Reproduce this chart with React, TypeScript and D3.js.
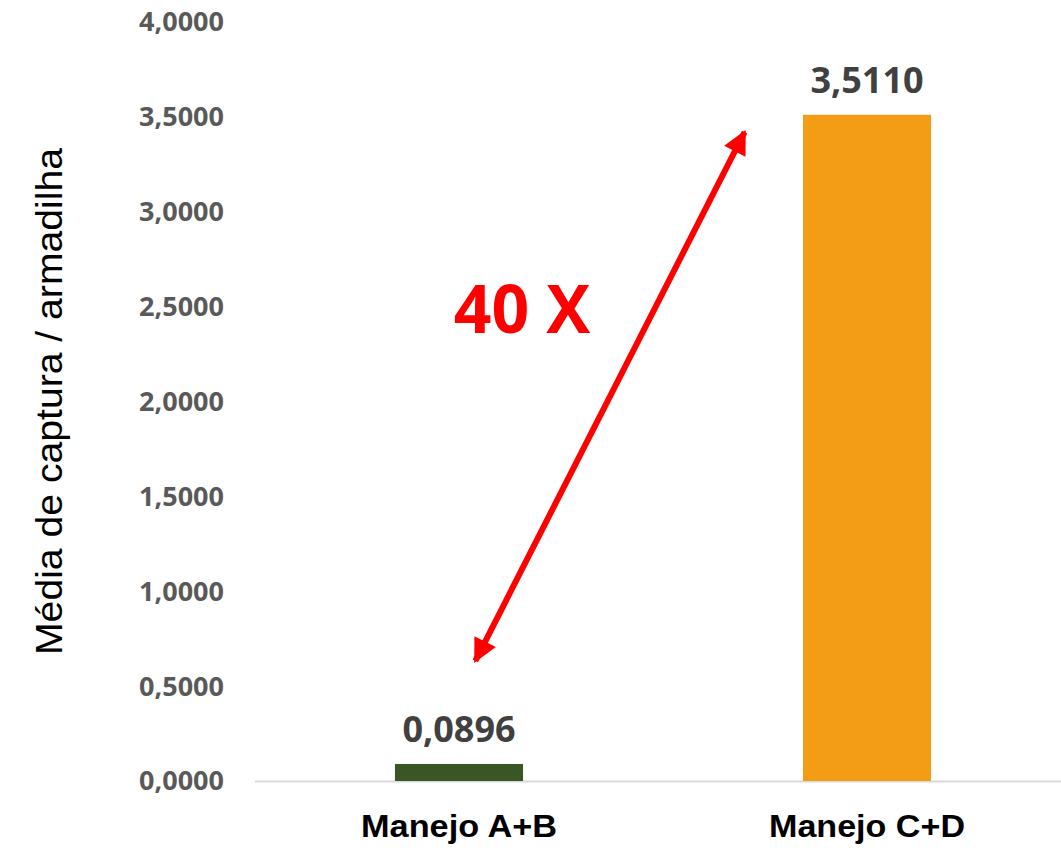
import React, { useRef, useEffect } from 'react';
import * as d3 from 'd3';

const categories = ['Manejo A+B', 'Manejo C+D'];
const values = [0.0896, 3.511];
const barColors = ['#3a5625', '#f39c16'];
const yTicks = [0, 0.5, 1, 1.5, 2, 2.5, 3, 3.5, 4];
const yTitle = 'Média de captura / armadilha';
const annotation = '40 X';
// arrow ends in data space: [position between the two categories (0..1), value]
const arrowFrom = [0.04, 0.633];
const arrowTo = [0.7, 3.42];

const fmt = (v: number) => v.toFixed(4).replace('.', ',');

const App = () => {
  const chartRef = useRef<SVGSVGElement>(null);

  useEffect(() => {
    const width = 1061;
    const height = 858;
    const margin = { top: 22, right: -10, bottom: 77, left: 255 };
    const innerH = height - margin.top - margin.bottom;

    const svg = d3.select(chartRef.current).attr('width', width).attr('height', height);
    svg.selectAll('*').remove();

    const x = d3
      .scaleBand()
      .domain(categories)
      .range([margin.left, width - margin.right])
      .paddingInner(0.686)
      .paddingOuter(0.343);

    const y = d3
      .scaleLinear()
      .domain([0, 4])
      .range([margin.top + innerH, margin.top]);

    // y tick labels
    svg
      .append('g')
      .selectAll('text')
      .data(yTicks)
      .enter()
      .append('text')
      .attr('x', 224)
      .attr('y', (d) => y(d))
      .attr('dy', '0.35em')
      .attr('text-anchor', 'end')
      .attr('font-family', '"Open Sans", sans-serif')
      .attr('font-weight', 700)
      .attr('font-size', 27)
      .attr('fill', '#595959')
      .text((d) => fmt(d));

    // baseline
    svg
      .append('line')
      .attr('x1', margin.left)
      .attr('x2', width)
      .attr('y1', y(0) + 0.5)
      .attr('y2', y(0) + 0.5)
      .attr('stroke', '#d9d9d9')
      .attr('stroke-width', 2);

    // bars
    svg
      .selectAll('.bar')
      .data(values)
      .enter()
      .append('rect')
      .attr('class', 'bar')
      .attr('x', (d, i) => x(categories[i])!)
      .attr('width', x.bandwidth())
      .attr('y', (d) => y(d))
      .attr('height', (d) => y(0) - y(d))
      .attr('fill', (d, i) => barColors[i]);

    // value labels
    svg
      .selectAll('.val')
      .data(values)
      .enter()
      .append('text')
      .attr('class', 'val')
      .attr('x', (d, i) => x(categories[i])! + x.bandwidth() / 2)
      .attr('y', (d) => y(d) - 22)
      .attr('text-anchor', 'middle')
      .attr('font-family', '"Open Sans", sans-serif')
      .attr('font-weight', 700)
      .attr('font-size', 36)
      .attr('fill', '#404040')
      .text((d) => fmt(d));

    // category labels
    svg
      .selectAll('.cat')
      .data(categories)
      .enter()
      .append('text')
      .attr('class', 'cat')
      .attr('x', (d) => x(d)! + x.bandwidth() / 2)
      .attr('y', 837)
      .attr('text-anchor', 'middle')
      .attr('font-family', '"Liberation Sans", Arial, sans-serif')
      .attr('font-weight', 700)
      .attr('font-size', 31)
      .attr('textLength', 196)
      .attr('lengthAdjust', 'spacingAndGlyphs')
      .attr('fill', '#000')
      .text((d) => d);

    // y title
    svg
      .append('text')
      .attr('transform', `translate(62,${(148 + 655) / 2}) rotate(-90)`)
      .attr('text-anchor', 'middle')
      .attr('font-family', '"Liberation Sans", Arial, sans-serif')
      .attr('font-size', 37)
      .attr('textLength', 507)
      .attr('lengthAdjust', 'spacingAndGlyphs')
      .attr('fill', '#000')
      .text(yTitle);

    // double-headed arrow
    const cx = (t: number) => {
      const a = x(categories[0])! + x.bandwidth() / 2;
      const b = x(categories[1])! + x.bandwidth() / 2;
      return a + (b - a) * t;
    };
    const defs = svg.append('defs');
    defs
      .append('marker')
      .attr('id', 'ah')
      .attr('viewBox', '0 0 10 10')
      .attr('refX', 9)
      .attr('refY', 5)
      .attr('markerWidth', 4.4)
      .attr('markerHeight', 4)
      .attr('markerUnits', 'strokeWidth')
      .attr('orient', 'auto-start-reverse')
      .append('path')
      .attr('d', 'M0,0 L10,5 L0,10 Z')
      .attr('fill', '#ff0000');

    svg
      .append('line')
      .attr('x1', cx(arrowFrom[0]))
      .attr('y1', y(arrowFrom[1]))
      .attr('x2', cx(arrowTo[0]))
      .attr('y2', y(arrowTo[1]))
      .attr('stroke', '#ff0000')
      .attr('stroke-width', 6)
      .attr('marker-start', 'url(#ah)')
      .attr('marker-end', 'url(#ah)');

    svg
      .append('text')
      .attr('x', 522)
      .attr('y', 333)
      .attr('text-anchor', 'middle')
      .attr('font-family', '"Open Sans", sans-serif')
      .attr('font-weight', 700)
      .attr('font-size', 66)
      .attr('fill', '#ff0000')
      .text(annotation);
  }, []);

  return (
    <svg
      ref={chartRef}
      style={{ position: 'absolute', left: 0, top: 0, background: '#fff' }}
    ></svg>
  );
};

export default App;
